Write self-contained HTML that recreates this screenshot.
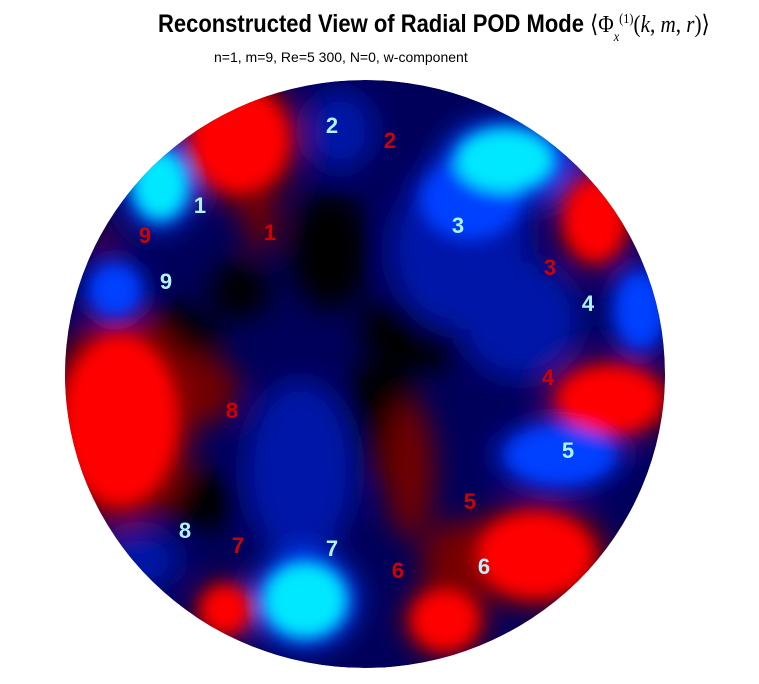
<!DOCTYPE html>
<html><head><meta charset="utf-8"><style>
body{margin:0;background:#fff;width:759px;height:684px;overflow:hidden;font-family:"Liberation Sans",sans-serif}
svg{display:block}
.t{font-family:"Liberation Sans Narrow","Liberation Sans",sans-serif;font-weight:bold}
</style></head><body>
<svg id="chart" width="759" height="684">
<defs>
<clipPath id="clip"><ellipse cx="365" cy="374" rx="300" ry="294"/></clipPath>
<filter id="blur" x="-50%" y="-50%" width="200%" height="200%"><feGaussianBlur stdDeviation="14"/></filter>
<filter id="blur2" x="-50%" y="-50%" width="200%" height="200%"><feGaussianBlur stdDeviation="8"/></filter>
</defs>
<text class="t" x="158" y="32" font-size="25" transform="translate(158,0) scale(0.88,1) translate(-158,0)">Reconstructed View of Radial POD Mode <tspan font-family="Liberation Serif" font-weight="normal" font-size="24">⟨Φ<tspan font-size="14" dy="9" font-style="italic">x</tspan><tspan font-size="14" dy="-18">(1)</tspan><tspan dy="9">(</tspan><tspan font-style="italic">k</tspan>, <tspan font-style="italic">m</tspan>, <tspan font-style="italic">r</tspan>)⟩</tspan></text>
<text x="214" y="62" font-size="14" font-family="Liberation Sans Narrow, Liberation Sans, sans-serif">n=1, m=9, Re=5 300, N=0, w-component</text>
<g clip-path="url(#clip)">
<ellipse cx="365" cy="374" rx="300" ry="294" fill="#00005a"/>
<g id="field" filter="url(#blur)"></g>
<g id="field2" filter="url(#blur2)"></g>
</g>
<g id="labels"></g>
</svg>
<script>
// blob field data: x, y, rx, ry, level (+ red, - blue, 0 black)
const blobX=[240,260,150,420,380,240,595,610,120,195,410,460,535,445,225,105,160,115,505,460,640,560,305,300,340,140,330,520,200,470,250,560];
const blobY=[140,220,340,330,420,290,220,400,420,390,470,560,555,620,610,240,185,290,160,250,310,455,600,470,130,560,250,320,500,200,140,170];
const blobRX=[48,18,70,60,40,30,30,52,58,45,25,40,58,33,24,12,28,26,50,70,25,55,42,55,35,40,40,60,40,50,40,30];
const blobRY=[52,30,40,40,60,30,40,33,85,35,70,40,42,30,24,12,35,26,32,80,38,30,38,90,40,30,60,60,30,40,40,40];
const blobV=[2,1,0,0,0,0,2,2,2,1,1,1,2,2,2,1,-3,-2,-3,-1,-2,-2,-3,-1,-1,-1,0,-1,0,-2,1,-1];
// label data
const labText=["1","2","3","4","5","6","7","8","9","1","2","3","4","5","6","7","8","9"];
const labX=[200,332,458,588,568,484,332,185,166,270,390,550,548,470,398,238,232,145];
const labY=[205,125,225,303,450,566,548,530,281,232,140,267,377,501,570,545,410,235];
const labCyan=[1,1,1,1,1,1,1,1,1,0,0,0,0,0,0,0,0,0];
const NS="http://www.w3.org/2000/svg";
const colors={"-3":"#00e8ff","-2":"#0040ff","-1":"#0014a8","0":"#000000","1":"#700000","2":"#ff0000"};
const f=document.getElementById('field'),f2=document.getElementById('field2');
[0,1,-1,2,-2,-3].forEach(lv=>{
 for(let i=0;i<blobX.length;i++){
  if(blobV[i]!==lv)continue;
  if(Math.abs(lv)>=2){
   const h=document.createElementNS(NS,'ellipse');
   
   
   h.setAttribute('cx',blobX[i]);h.setAttribute('cy',blobY[i]);
   h.setAttribute('rx',blobRX[i]*1.25);h.setAttribute('ry',blobRY[i]*1.25);
   h.setAttribute('fill',lv>0?'#8a0000':(lv===-3?'#0040ff':'#0018b0'));
   f.appendChild(h);
  }
  const e=document.createElementNS(NS,'ellipse');
  
  
  e.setAttribute('cx',blobX[i]);e.setAttribute('cy',blobY[i]);
  e.setAttribute('rx',blobRX[i]);e.setAttribute('ry',blobRY[i]);
  e.setAttribute('fill',colors[lv]);
  (Math.abs(lv)>=2?f2:f).appendChild(e);
 }
});
const L=document.getElementById('labels');
for(let i=0;i<labText.length;i++){
 const t=document.createElementNS(NS,'text');
 
 
 t.setAttribute('x',labX[i]);t.setAttribute('y',labY[i]+8);
 t.setAttribute('text-anchor','middle');t.setAttribute('font-size','22');
 t.setAttribute('class','t');
 t.setAttribute('fill',labCyan[i]?'#b0f4ff':'#d00000');
 t.textContent=labText[i];
 L.appendChild(t);
}
</script>
</body></html>
